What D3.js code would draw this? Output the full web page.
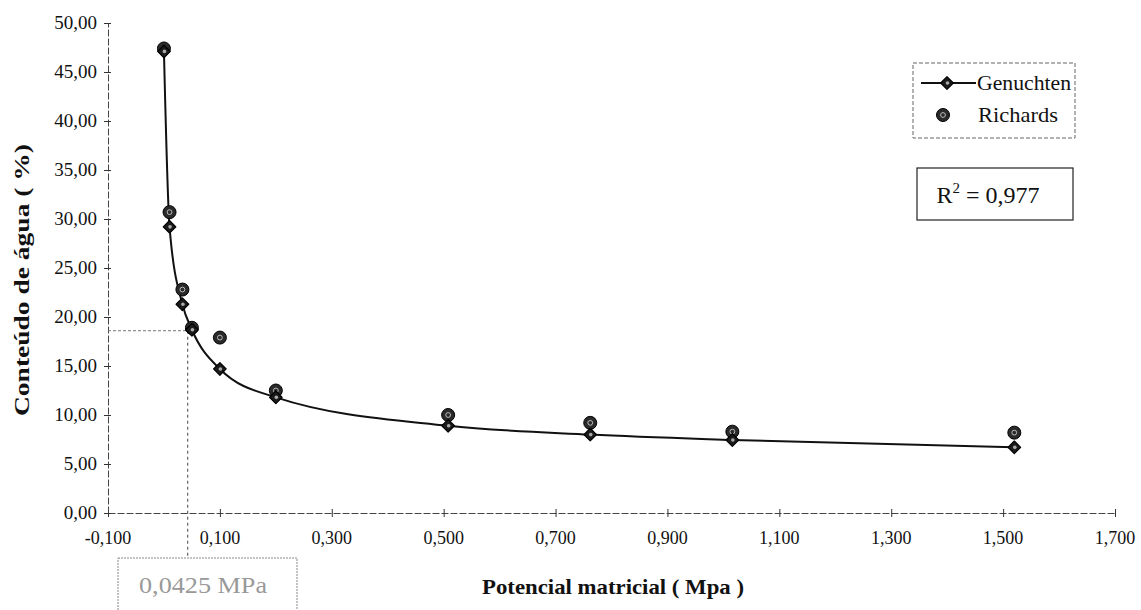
<!DOCTYPE html>
<html>
<head>
<meta charset="utf-8">
<script src="https://cdn.jsdelivr.net/npm/d3@7"></script>
<style>
  html, body { margin: 0; padding: 0; background: #fff; }
  svg { display: block; }
  text { font-family: "Liberation Serif", "Times New Roman", serif; fill: #111; }
</style>
</head>
<body>
<svg id="chart" width="1141" height="610"></svg>
<script>
// ---- data ----
const genuchtenX = [0, 0.01, 0.033, 0.05, 0.1, 0.2, 0.508, 0.762, 1.016, 1.52];
const genuchtenY = [47.1, 29.2, 21.3, 18.7, 14.7, 11.8, 8.9, 8.0, 7.45, 6.7];
const richardsX  = [0, 0.01, 0.033, 0.05, 0.1, 0.2, 0.508, 0.762, 1.016, 1.52];
const richardsY  = [47.4, 30.7, 22.8, 18.9, 17.9, 12.5, 10.0, 9.2, 8.3, 8.2];
const xTicks = [-0.1, 0.1, 0.3, 0.5, 0.7, 0.9, 1.1, 1.3, 1.5, 1.7];
const yTicks = [0, 5, 10, 15, 20, 25, 30, 35, 40, 45, 50];
const markX = 0.0425;   // highlighted matric potential
const markY = 18.6;     // corresponding water content
const markLabel = "0,0425 MPa";
const r2Label = "0,977";

const svg = d3.select("#chart");
const x = d3.scaleLinear().domain([-0.1, 1.7]).range([108, 1115]);
const y = d3.scaleLinear().domain([0, 50]).range([513, 23]);
const fmt = (d, n) => d.toFixed(n).replace(".", ",");

// axes (lines and ticks from d3-axis, labels drawn explicitly)
const xAxis = d3.axisBottom(x).tickValues(xTicks).tickSize(0).tickFormat("");
const yAxis = d3.axisLeft(y).tickValues(yTicks).tickSize(0).tickFormat("");

const gx = svg.append("g").attr("transform", `translate(0,${y(0)})`).call(xAxis);
gx.select(".domain").attr("stroke", "#444").attr("stroke-dasharray", "7,2");
gx.selectAll(".tick text").remove();
gx.selectAll(".tick").append("line").attr("y1", -4).attr("y2", 4).attr("stroke", "#333");

const gy = svg.append("g").attr("transform", `translate(${x(-0.1)},0)`).call(yAxis);
gy.select(".domain").attr("stroke", "#444").attr("stroke-dasharray", "7,2");
gy.selectAll(".tick text").remove();
gy.selectAll(".tick").append("line").attr("x1", -4).attr("x2", 3).attr("stroke", "#333");

svg.append("g").selectAll("text").data(xTicks).join("text")
  .attr("x", d => x(d)).attr("y", 544).attr("text-anchor", "middle")
  .attr("font-size", 18).text(d => fmt(d, 3));
svg.append("g").selectAll("text").data(yTicks).join("text")
  .attr("x", 97).attr("y", d => y(d) + 6).attr("text-anchor", "end")
  .attr("font-size", 19).text(d => fmt(d, 2));

// helper dashed lines for the marked point
svg.append("line")
  .attr("x1", x(-0.1)).attr("x2", x(markX))
  .attr("y1", y(markY)).attr("y2", y(markY))
  .attr("stroke", "#777").attr("stroke-width", 1).attr("stroke-dasharray", "3,2");
svg.append("line")
  .attr("x1", x(markX)).attr("x2", x(markX))
  .attr("y1", y(markY)).attr("y2", 558)
  .attr("stroke", "#444").attr("stroke-width", 1).attr("stroke-dasharray", "3,3");

// label box for marked value
svg.append("rect").attr("x", 118).attr("y", 558).attr("width", 179).attr("height", 60)
  .attr("fill", "none").attr("stroke", "#888").attr("stroke-dasharray", "2,1");
svg.append("text").attr("x", 203).attr("y", 593).attr("text-anchor", "middle")
  .attr("font-size", 23).attr("textLength", 128).attr("lengthAdjust", "spacingAndGlyphs")
  .style("fill", "#999").text(markLabel);

// Genuchten curve
const gData = genuchtenX.map((d, i) => [d, genuchtenY[i]]);
const rData = richardsX.map((d, i) => [d, richardsY[i]]);
const line = d3.line().x(d => x(d[0])).y(d => y(d[1])).curve(d3.curveMonotoneX);
svg.append("path").datum(gData).attr("d", line)
  .attr("fill", "none").attr("stroke", "#111").attr("stroke-width", 2);

// markers
const diamond = d3.symbol().type(d3.symbolSquare).size(80);
function drawDiamond(g, cx, cy) {
  g.append("path").attr("d", diamond).attr("transform", `translate(${cx},${cy}) rotate(45)`)
    .attr("fill", "#1b1b1b").attr("stroke", "#000").attr("stroke-width", 1.2)
    .attr("stroke-linejoin", "round");
  g.append("circle").attr("cx", cx + 0.5).attr("cy", cy).attr("r", 1.8).attr("fill", "#aaa");
}
function drawCircle(g, cx, cy) {
  g.append("circle").attr("cx", cx).attr("cy", cy).attr("r", 6.5)
    .attr("fill", "#2a2a2a").attr("stroke", "#000").attr("stroke-width", 1);
  g.append("circle").attr("cx", cx).attr("cy", cy).attr("r", 2.4).attr("fill", "none")
    .attr("stroke", "#bbb").attr("stroke-width", 1);
}
const mg = svg.append("g");
rData.forEach(d => drawCircle(mg, x(d[0]), y(d[1])));
gData.forEach(d => drawDiamond(mg, x(d[0]), y(d[1])));

// legend
const lg = svg.append("g");
lg.append("rect").attr("x", 913).attr("y", 63).attr("width", 162).attr("height", 75)
  .attr("fill", "#fff").attr("stroke", "#666").attr("stroke-dasharray", "4,2");
lg.append("line").attr("x1", 921).attr("x2", 976).attr("y1", 83).attr("y2", 83)
  .attr("stroke", "#111").attr("stroke-width", 2);
drawDiamond(lg, 947, 83);
lg.append("text").attr("x", 977).attr("y", 90).attr("font-size", 21)
  .attr("textLength", 94).attr("lengthAdjust", "spacingAndGlyphs").text("Genuchten");
drawCircle(lg, 943, 115);
lg.append("text").attr("x", 978).attr("y", 122).attr("font-size", 21)
  .attr("textLength", 80).attr("lengthAdjust", "spacingAndGlyphs").text("Richards");

// R² box
svg.append("rect").attr("x", 917).attr("y", 168).attr("width", 156).attr("height", 52)
  .attr("fill", "#fff").attr("stroke", "#222").attr("stroke-width", 1.2);
const rt = svg.append("text").attr("x", 988).attr("y", 203).attr("text-anchor", "middle")
  .attr("font-size", 24);
rt.append("tspan").text("R");
rt.append("tspan").attr("dy", -10).attr("font-size", 15).text("2");
rt.append("tspan").attr("dy", 10).text(" = " + r2Label);

// axis titles
svg.append("text").attr("x", 613).attr("y", 594).attr("text-anchor", "middle")
  .attr("font-size", 22).attr("font-weight", "bold")
  .attr("textLength", 262).attr("lengthAdjust", "spacingAndGlyphs")
  .text("Potencial matricial ( Mpa )");
svg.append("text").attr("transform", "translate(29,280) rotate(-90)")
  .attr("text-anchor", "middle").attr("font-size", 22).attr("font-weight", "bold")
  .attr("textLength", 272).attr("lengthAdjust", "spacingAndGlyphs")
  .text("Conteúdo de água ( %)");
</script>
</body>
</html>
